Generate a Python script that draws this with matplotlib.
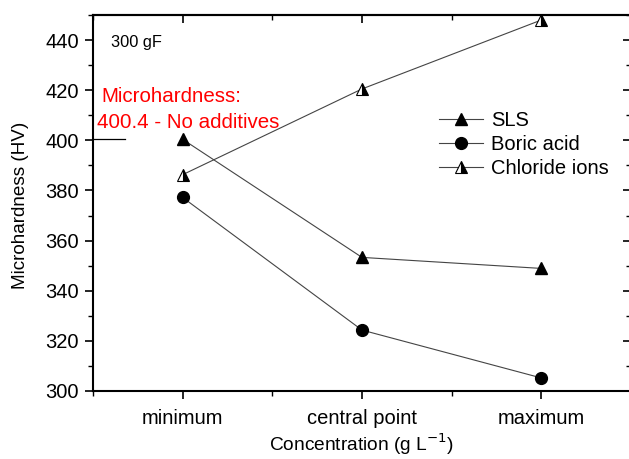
import matplotlib
matplotlib.use("Agg")
import matplotlib.pyplot as plt
from matplotlib.ticker import MultipleLocator

plt.rcParams['font.family'] = ['Liberation Sans', 'DejaVu Sans']

categories = ["minimum", "central point", "maximum"]
sls = [400.4, 353.3, 348.9]
boric_acid = [377.2, 324.3, 305.2]
chloride_ions = [386.3, 420.5, 448.0]
reference_value = 400.4

x = [1, 2, 3]

fig = plt.figure(figsize=(6.29, 4.59), dpi=100)
ax = fig.add_axes([93 / 629, 68 / 459, 538 / 629, 376 / 459])

line_kw = dict(color="#444444", linewidth=0.8, markersize=8.5)
ax.plot(x, sls, marker="^", markerfacecolor="black", markeredgecolor="black",
        label="SLS", **line_kw)
ax.plot(x, boric_acid, marker="o", markerfacecolor="black", markeredgecolor="black",
        label="Boric acid", **line_kw)
ax.plot(x, chloride_ions, marker="^", fillstyle="right", markerfacecolor="black",
        markerfacecoloralt="white", markeredgecolor="black", markeredgewidth=0.8,
        label="Chloride ions", **line_kw)

# reference level without additives
ax.plot([0.5, 0.68], [reference_value, reference_value], color="black",
        linewidth=0.9, clip_on=False)
ax.text(0.545, 415.4, "Microhardness:", color="red", fontsize=14.8,
        ha="left", va="baseline")
ax.text(0.522, 405.0, "400.4 - No additives", color="red", fontsize=14.8,
        ha="left", va="baseline")
ax.text(0.6, 439.2, "300 gF", fontsize=11.8, ha="left", va="center")

ax.set_xlim(0.5, 3.5)
ax.set_ylim(300, 450)
ax.set_xticks(x)
ax.set_xticklabels(categories)
ax.xaxis.set_minor_locator(MultipleLocator(0.5))
ax.yaxis.set_major_locator(MultipleLocator(20))
ax.yaxis.set_minor_locator(MultipleLocator(10))

ax.tick_params(axis="both", which="major", labelsize=14.5, length=6, width=1.2)
ax.tick_params(axis="both", which="minor", length=3.5, width=1.0)
ax.tick_params(axis="x", which="both", direction="out", top=False)
ax.tick_params(axis="y", which="both", direction="out", right=False, pad=4)
ax.tick_params(axis="x", which="major", labelsize=14.5, pad=7)

# inward ticks on the top and right edges
sec_x = ax.secondary_xaxis("top")
sec_x.set_xticks(x)
sec_x.xaxis.set_minor_locator(MultipleLocator(0.5))
sec_x.tick_params(which="major", direction="in", length=6, width=1.2, labeltop=False)
sec_x.tick_params(which="minor", direction="in", length=3.5, width=1.0)
sec_x.spines["top"].set_linewidth(1.5)
sec_y = ax.secondary_yaxis("right")
sec_y.yaxis.set_major_locator(MultipleLocator(20))
sec_y.yaxis.set_minor_locator(MultipleLocator(10))
sec_y.tick_params(which="major", direction="in", length=6, width=1.2, labelright=False)
sec_y.tick_params(which="minor", direction="in", length=3.5, width=1.0)
sec_y.spines["right"].set_linewidth(1.5)

for s in ax.spines.values():
    s.set_linewidth(1.5)

ax.set_ylabel("Microhardness (HV)", fontsize=13.6)
ax.yaxis.set_label_coords(-0.119, 0.495)
ax.set_xlabel("Concentration (g L$^{-1}$)", fontsize=13.8)
ax.xaxis.set_label_coords(0.5, -0.108)

ax.legend(loc="upper left", bbox_to_anchor=(0.635, 0.755), frameon=False,
          fontsize=14.5, handlelength=2.2, handletextpad=0.4, labelspacing=0.25,
          borderpad=0.2, borderaxespad=0)

fig.savefig("out.png", dpi=100)
